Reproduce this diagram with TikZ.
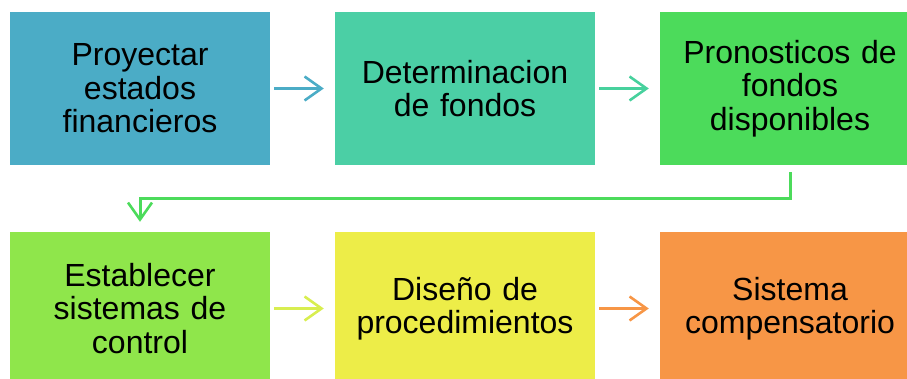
\documentclass[tikz,border=0pt]{standalone}
\usepackage{fontspec}
\setmainfont{Liberation Sans}
\usetikzlibrary{arrows.meta}

\definecolor{azul}{HTML}{4BACC6}
\definecolor{turquesa}{HTML}{4BCFA5}
\definecolor{verde}{HTML}{4CDB5B}
\definecolor{lima}{HTML}{8FE64B}
\definecolor{amarillo}{HTML}{EDED48}
\definecolor{naranja}{HTML}{F79646}
\definecolor{limaclaro}{HTML}{D8EE50}

\begin{document}
\begin{tikzpicture}[x=1pt, y=-1pt,
  caja/.style={fill=#1, minimum width=260pt, minimum height=153pt, inner sep=0pt,
    text width=255pt, align=center, font=\fontsize{32}{33.5}\selectfont},
  flecha/.style={draw=#1, line width=2.6pt, -{Straight Barb[length=17pt,width=24pt,line width=2.6pt]},
    shorten <=4pt, shorten >=11pt}]
\useasboundingbox (0,0) rectangle (907,379);
\clip (0,0) rectangle (907,379);
\node [caja=azul] (proyectar) at (140,88.5) {Proyectar\\estados\\financieros};
\node [caja=turquesa] (determinacion) at (465,88.5) {Determinacion\\de fondos};
\node [caja=verde] (pronosticos) at (790,88.5) {Pronosticos de\\fondos\\disponibles};
\node [caja=lima] (establecer) at (140,308.5) {Establecer\\sistemas de\\control};
\node [caja=amarillo] (diseno) at (465,308.5) {Diseño de\\procedimientos};
\node [caja=naranja] (sistema) at (790,308.5) {Sistema\\compensatorio};
\draw [flecha=azul] (proyectar.east) -- (determinacion.west);
\draw [flecha=turquesa!95!green] (determinacion.east) -- (pronosticos.west);
\draw [flecha=verde, line width=3pt, shorten <=7pt, shorten >=10pt] (pronosticos.south) -- ++(0,33) -| (establecer.north);
\draw [flecha=limaclaro] (establecer.east) -- (diseno.west);
\draw [flecha=naranja] (diseno.east) -- (sistema.west);
\end{tikzpicture}
\end{document}
